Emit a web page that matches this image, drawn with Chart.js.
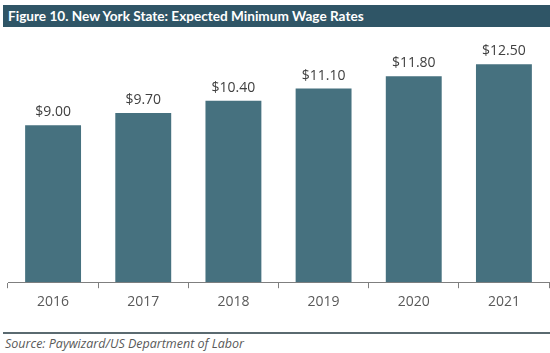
<!DOCTYPE html>
<html>
<head>
<meta charset="utf-8">
<script src="https://cdn.jsdelivr.net/npm/chart.js@4"></script>
<style>
  html, body { margin: 0; padding: 0; background: #fff; }
  body { width: 550px; height: 353px; position: relative; overflow: hidden; font-family: "Open Sans", sans-serif; }
  .banner { position: absolute; left: 3px; top: 5px; width: 547px; height: 22px; background: #2f5566;
            color: #fff; font-family: Lato, sans-serif; font-weight: bold; font-size: 13.6px; line-height: 22px; padding-left: 5px; box-sizing: border-box; }
  .wrap { position: absolute; left: 0; top: 38px; width: 550px; height: 281px; }
  .rule { position: absolute; left: 3px; top: 332px; width: 547px; height: 2px; background: #5a6a70; }
  .source { position: absolute; left: 5px; top: 335px; font-size: 12.5px; font-style: italic; color: #595959; }
</style>
</head>
<body>
<div class="banner">Figure 10. New York State: Expected Minimum Wage Rates</div>
<div class="wrap"><canvas id="chart"></canvas></div>
<div class="rule"></div>
<div class="source">Source: Paywizard/US Department of Labor</div>
<script>
// valores
const years = ['2016', '2017', '2018', '2019', '2020', '2021'];
const wages = [9.00, 9.70, 10.40, 11.10, 11.80, 12.50];

// escreve "$x.xx" em cima de cada barra
const barLabels = {
  id: 'barLabels',
  afterDatasetsDraw(chart) {
    const ctx = chart.ctx;
    const meta = chart.getDatasetMeta(0);
    ctx.save();
    ctx.font = '14px "Open Sans"';
    ctx.fillStyle = '#404040';
    ctx.textAlign = 'center';
    ctx.textBaseline = 'alphabetic';
    meta.data.forEach((bar, i) => {
      ctx.fillText('$' + wages[i].toFixed(2), bar.x, bar.y - 9);
    });
    ctx.restore();
  }
};

new Chart(document.getElementById('chart'), {
  type: 'bar',
  data: {
    labels: years,
    datasets: [{
      data: wages,
      backgroundColor: '#46717f',
      categoryPercentage: 0.62,
      barPercentage: 1
    }]
  },
  options: {
    responsive: true,
    maintainAspectRatio: false,
    animation: false,
    layout: { padding: { left: 8, right: 1, top: 0, bottom: 4 } },
    plugins: { legend: { display: false }, tooltip: { enabled: false } },
    scales: {
      x: {
        grid: { offset: true, drawOnChartArea: false, tickLength: 6, color: '#7f7f7f' },
        border: { color: '#7f7f7f' },
        ticks: { color: '#595959', font: { family: 'Open Sans', size: 14 }, padding: 5 }
      },
      y: { display: false, min: 0, max: 14 }
    }
  },
  plugins: [barLabels]
});
</script>
</body>
</html>
